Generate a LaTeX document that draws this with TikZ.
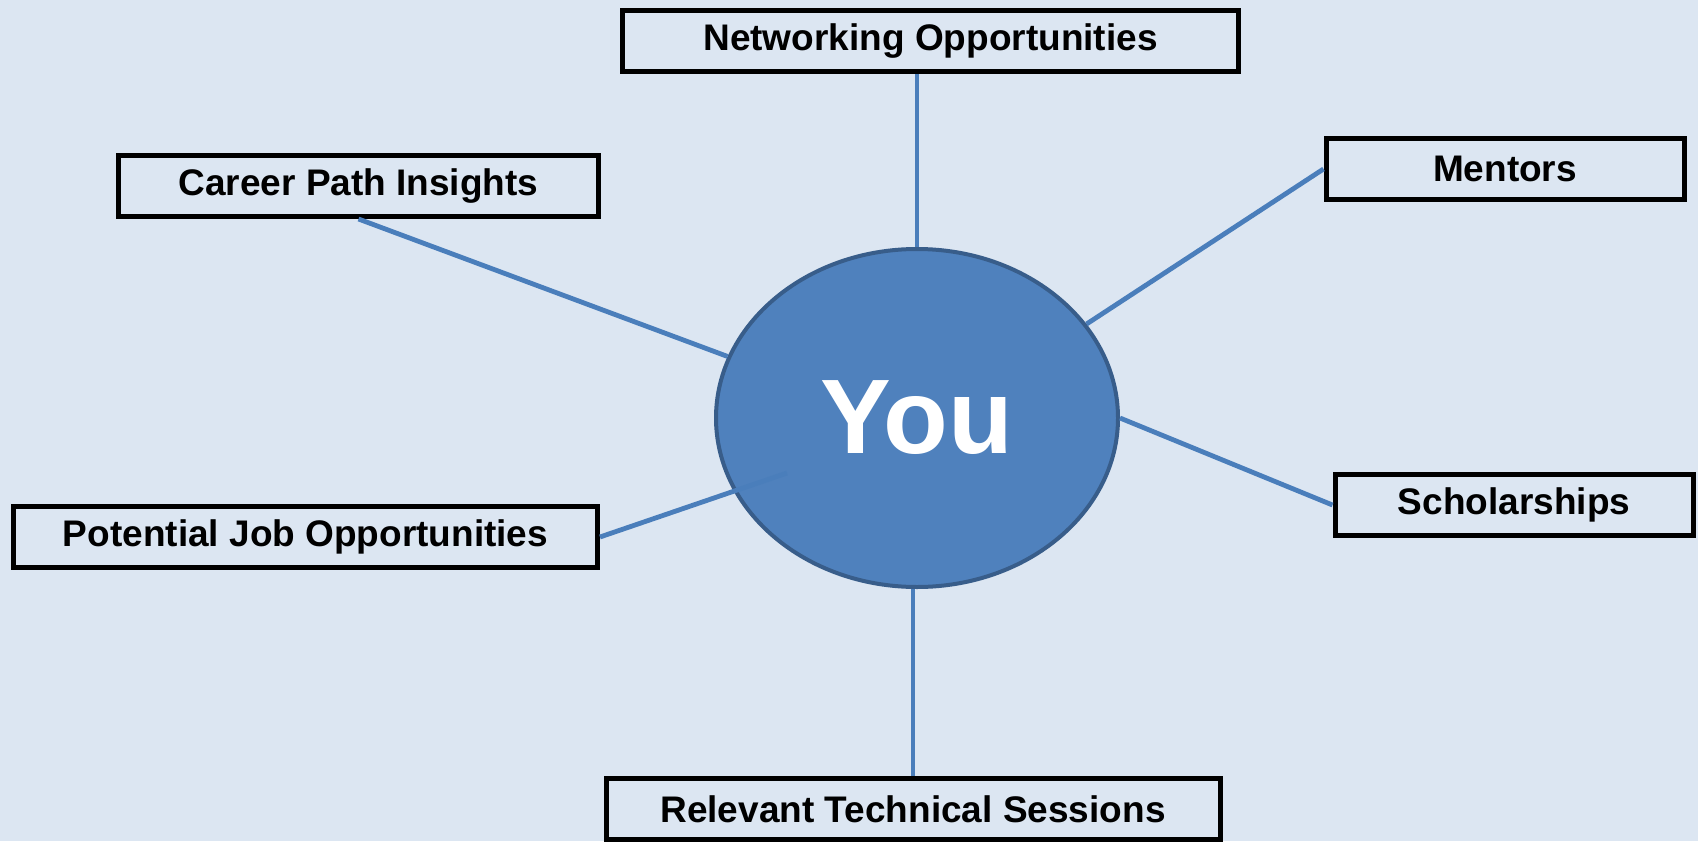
\documentclass[tikz,border=0pt]{standalone}
\usepackage{fontspec}
\setmainfont{Liberation Sans}
\usetikzlibrary{shapes.geometric}
\definecolor{bgcol}{HTML}{DCE6F2}
\definecolor{ellfill}{HTML}{4F81BD}
\definecolor{elldraw}{HTML}{385D8A}
\definecolor{linkcol}{HTML}{4A7EBB}
\begin{document}
\begin{tikzpicture}[x=0.5pt,y=-0.5pt,
  topic/.style={draw=black, line width=2.5pt, rectangle, inner sep=0pt,
    minimum height=30.5pt, font=\fontsize{18.5}{22}\selectfont\bfseries},
  link/.style={draw=linkcol, line width=2.4pt},
  center/.style={ellipse, fill=ellfill, draw=elldraw, line width=2pt,
    minimum width=201pt, minimum height=169pt, inner sep=0pt,
    text=white, font=\fontsize{53}{60}\selectfont\bfseries}]
\fill[bgcol] (0,0) rectangle (1698,841);
\useasboundingbox (0,0) rectangle (1698,841);

\node[topic, minimum width=308pt] (net) at (930.5,41) {Networking Opportunities};
\node[topic, minimum width=240pt] (career) at (358.5,186) {Career Path Insights};
\node[topic, minimum width=179pt] (mentors) at (1505,169) {Mentors};
\node[topic, minimum width=179pt] (schol) at (1514,505) {Scholarships};
\node[topic, minimum width=292pt] (pjob) at (305.5,537) {Potential Job Opportunities};
\node[topic, minimum width=307pt] (rel) at (913,809) {Relevant Technical Sessions};

\node[center] (you) at (917,418) {You};
\coordinate (pjend) at (787,473);

\draw[link] (you.north) -- (you.north |- net.south);
\draw[link] (career.south) -- (you.162.4);
\draw[link] (mentors.west) -- (you.29.9);
\draw[link] (schol.west) -- (you.east);
\draw[link] (pjob.east) -- (pjend);
\draw[link] (rel.north) -- (rel.north |- you.south);
\end{tikzpicture}
\end{document}
